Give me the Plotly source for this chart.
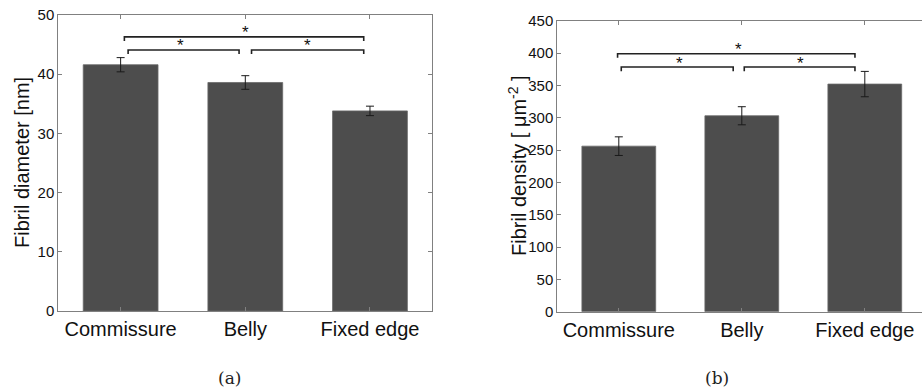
import plotly.graph_objects as go

# ---- data ----
regions = ["Commissure", "Belly", "Fixed edge"]

diameter_mean = [41.6, 38.6, 33.8]
diameter_err = [1.2, 1.15, 0.8]

density_mean = [256, 303, 352]
density_err = [14.4, 14.0, 19.6]

# significance brackets: (x start, x end, height, tip drop)
diameter_brackets = [(0.03, 1.95, 46.3, 0.7), (0.06, 0.95, 44.1, 0.7), (1.05, 1.95, 44.1, 0.7)]
density_brackets = [(-0.01, 1.92, 399, 6.2), (0.02, 0.93, 378.4, 6.4), (1.02, 1.92, 378.4, 6.4)]

# star marks above brackets: (x, y)
diameter_stars = [(1.0, 47.6), (0.48, 45.4), (1.5, 45.4)]
density_stars = [(0.97, 410), (0.49, 388), (1.48, 388)]

W, H = 922, 392
BAR = "#4d4d4d"
AX = "#808080"
FONT = "Liberation Sans, Arial, Helvetica, sans-serif"

fig = go.Figure()

def add_bars(mean, err, xa, ya):
    fig.add_trace(go.Bar(
        x=list(range(len(regions))), y=mean, width=0.6,
        marker=dict(color=BAR, line=dict(color="#6a6a6a", width=0.8)),
        error_y=dict(type="data", array=err, color="#1a1a1a", thickness=1, width=4),
        xaxis=xa, yaxis=ya, showlegend=False, hoverinfo="skip",
    ))

def add_brackets(brackets, xa, ya):
    for x0, x1, h, d in brackets:
        fig.add_trace(go.Scatter(
            x=[x0, x0, x1, x1], y=[h - d, h, h, h - d], mode="lines",
            line=dict(color="#222222", width=1.6),
            xaxis=xa, yaxis=ya, showlegend=False, hoverinfo="skip",
        ))

add_bars(diameter_mean, diameter_err, "x", "y")
add_bars(density_mean, density_err, "x2", "y2")
add_brackets(diameter_brackets, "x", "y")
add_brackets(density_brackets, "x2", "y2")

annotations = []
for (sx, sy) in diameter_stars:
    annotations.append(dict(x=sx, y=sy, xref="x", yref="y", text="*", showarrow=False,
                            xanchor="center", yanchor="middle",
                            font=dict(size=17, color="#111", family=FONT), yshift=-3))
for (sx, sy) in density_stars:
    annotations.append(dict(x=sx, y=sy, xref="x2", yref="y2", text="*", showarrow=False,
                            xanchor="center", yanchor="middle",
                            font=dict(size=17, color="#111", family=FONT), yshift=-3))

# axis titles
annotations.append(dict(x=22 / W, y=1 - 163 / H, xref="paper", yref="paper",
                        xanchor="center", yanchor="middle",
                        text="Fibril diameter [nm]", textangle=-90, showarrow=False,
                        font=dict(size=20, color="#111", family=FONT)))
annotations.append(dict(x=517 / W, y=1 - 166 / H, xref="paper", yref="paper",
                        xanchor="center", yanchor="middle",
                        text="Fibril density [ \u03bcm<sup>-2</sup> ]", textangle=-90, showarrow=False,
                        font=dict(size=20, color="#111", family=FONT)))
# sub-figure captions
annotations.append(dict(x=229 / W, y=1 - 378 / H, xref="paper", yref="paper", text="(a)",
                        xanchor="center", yanchor="middle",
                        showarrow=False, font=dict(size=17, color="#222", family="DejaVu Serif")))
annotations.append(dict(x=717 / W, y=1 - 378 / H, xref="paper", yref="paper", text="(b)",
                        xanchor="center", yanchor="middle",
                        showarrow=False, font=dict(size=17, color="#222", family="DejaVu Serif")))

common_x = dict(
    tickvals=list(range(len(regions))), ticktext=regions,
    showline=True, linecolor=AX, linewidth=1, ticks="inside", ticklen=4,
    tickcolor=AX, showgrid=False, zeroline=False, automargin=False,
    tickfont=dict(size=20, color="#111", family=FONT),
)
common_y = dict(
    showline=True, linecolor=AX, linewidth=1, ticks="inside", ticklen=4,
    tickcolor=AX, showgrid=False, zeroline=False, automargin=False,
    tickfont=dict(size=15, color="#111", family=FONT),
)

fig.update_layout(
    width=W, height=H, margin=dict(l=0, r=0, t=0, b=0, autoexpand=False),
    paper_bgcolor="white", plot_bgcolor="white",
    xaxis=dict(common_x, domain=[58.3 / W, 432.3 / W], range=[-0.5, 2.5], mirror="ticks", anchor="y"),
    yaxis=dict(common_y, domain=[1 - 311 / H, 1 - 15 / H], range=[0, 50], tickvals=[0, 10, 20, 30, 40, 50],
               mirror="ticks", anchor="x"),
    xaxis2=dict(common_x, domain=[557.3 / W, 1.0], range=[-0.5, -0.5 + (W - 557.3) / 123.0],
                mirror="ticks", anchor="y2"),
    yaxis2=dict(common_y, domain=[1 - 311.7 / H, 1 - 20.7 / H], range=[0, 450],
                tickvals=list(range(0, 451, 50)), mirror=False, anchor="x2"),
    annotations=annotations,
)

fig.write_html("out.html")
